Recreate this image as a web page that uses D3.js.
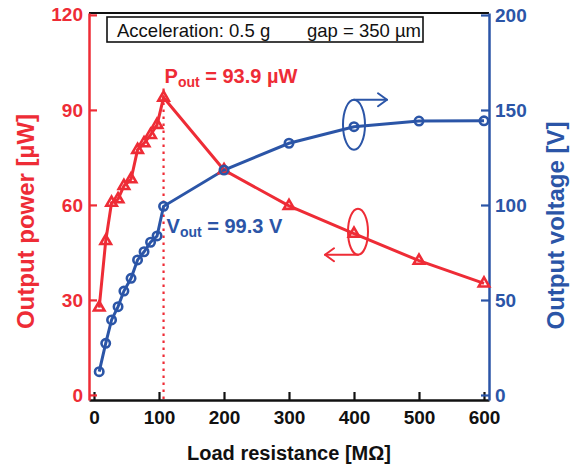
<!DOCTYPE html>
<html>
<head>
<meta charset="utf-8">
<script src="https://cdn.jsdelivr.net/npm/d3@7/dist/d3.min.js"></script>
<style>
  html, body { margin: 0; padding: 0; background: #fff; }
  svg { display: block; font-family: "Liberation Sans", Arial, sans-serif; }
</style>
</head>
<body>
<svg id="chart" width="571" height="464"></svg>
<script>
// Load resistance sweep [MΩ]
const resistance = [8, 18, 27, 37, 46, 57, 67, 77, 87, 97, 107, 200, 300, 400, 500, 600];
// Output power [µW]
const power = [27.6, 48.6, 60.7, 61.8, 66.0, 68.1, 77.4, 79.5, 82.1, 85.3, 93.9, 71.0, 59.7, 50.9, 42.4, 35.2];
// Output voltage [V]
const voltage = [12.3, 27.2, 39.5, 46.5, 54.7, 61.4, 71.1, 75.4, 80.4, 83.7, 99.3, 118.4, 132.5, 141.2, 144.2, 144.3];

const resTicks = [0, 100, 200, 300, 400, 500, 600];
const powerTicks = [0, 30, 60, 90, 120];
const voltageTicks = [0, 50, 100, 150, 200];

const peakPower = 93.9;
const peakVoltage = 99.3;
const conditionText = "Acceleration: 0.5 g";
const gapText = "gap = 350 µm";

const RED = "#ee2c36";
const BLUE = "#2b55a7";

const frame = { left: 89, right: 489, top: 13, bottom: 400 };

const svg = d3.select("#chart");

const x = d3.scaleLinear().domain([-7.7, 607.7]).range([frame.left, frame.right]);
const yP = d3.scaleLinear().domain([-1.6, 120.6]).range([frame.bottom, frame.top]);
const yV = d3.scaleLinear().domain([-2.63, 201.05]).range([frame.bottom, frame.top]);

const pts = resistance.map((r, i) => ({ r, p: power[i], v: voltage[i] }));

// top border of the frame
svg.append("line")
  .attr("x1", frame.left).attr("x2", frame.right)
  .attr("y1", frame.top).attr("y2", frame.top)
  .attr("stroke", "#111").attr("stroke-width", 2.2);

// axes with inward ticks
const axX = svg.append("g")
  .attr("transform", `translate(0,${frame.bottom})`)
  .call(d3.axisBottom(x).tickValues(resTicks).tickSizeInner(-8).tickSizeOuter(0).tickPadding(11));
axX.select(".domain").attr("stroke", "#111").attr("stroke-width", 2.5);
axX.selectAll(".tick line").attr("stroke", "#111").attr("stroke-width", 2.2);
axX.selectAll(".tick text").attr("fill", "#111").attr("font-size", 19).attr("font-weight", "bold")
  .attr("font-family", "'Liberation Sans', Arial, sans-serif");

const axL = svg.append("g")
  .attr("transform", `translate(${frame.left},0)`)
  .call(d3.axisLeft(yP).tickValues(powerTicks).tickSizeInner(-8).tickSizeOuter(0).tickPadding(6));
axL.select(".domain").attr("stroke", RED).attr("stroke-width", 2.5);
axL.selectAll(".tick line").attr("stroke", RED).attr("stroke-width", 2.2);
axL.selectAll(".tick text").attr("fill", RED).attr("font-size", 19).attr("font-weight", "bold")
  .attr("font-family", "'Liberation Sans', Arial, sans-serif");

const axR = svg.append("g")
  .attr("transform", `translate(${frame.right},0)`)
  .call(d3.axisRight(yV).tickValues(voltageTicks).tickSizeInner(-8).tickSizeOuter(0).tickPadding(6));
axR.select(".domain").attr("stroke", BLUE).attr("stroke-width", 2.5);
axR.selectAll(".tick line").attr("stroke", BLUE).attr("stroke-width", 2.2);
axR.selectAll(".tick text").attr("fill", BLUE).attr("font-size", 19).attr("font-weight", "bold")
  .attr("font-family", "'Liberation Sans', Arial, sans-serif");

// axis titles
svg.append("text")
  .attr("x", (frame.left + frame.right) / 2).attr("y", 460)
  .attr("text-anchor", "middle").attr("font-size", 20).attr("font-weight", "bold").attr("fill", "#111")
  .text("Load resistance [MΩ]");

svg.append("text")
  .attr("transform", `translate(34,${(frame.top + frame.bottom) / 2 + 15}) rotate(-90)`)
  .attr("text-anchor", "middle").attr("font-size", 24).attr("font-weight", "bold").attr("fill", RED)
  .text("Output power [µW]");

svg.append("text")
  .attr("transform", `translate(564,${(frame.top + frame.bottom) / 2 + 19}) rotate(-90)`)
  .attr("text-anchor", "middle").attr("font-size", 24).attr("font-weight", "bold").attr("fill", BLUE)
  .text("Output voltage [V]");

// condition box
const box = svg.append("g");
box.append("rect")
  .attr("x", 107).attr("y", 17).attr("width", 316).attr("height", 25)
  .attr("fill", "#fff").attr("stroke", "#111").attr("stroke-width", 1.6);
box.append("text").attr("x", 117).attr("y", 37).attr("font-size", 18.5).attr("fill", "#111").text(conditionText);
box.append("text").attr("x", 421).attr("y", 37).attr("text-anchor", "end").attr("font-size", 18.5).attr("fill", "#111").text(gapText);

// dotted marker at maximum power
const peak = pts[power.indexOf(peakPower)];
svg.append("line")
  .attr("x1", x(peak.r)).attr("x2", x(peak.r))
  .attr("y1", yP(peak.p) - 9).attr("y2", frame.bottom)
  .attr("stroke", RED).attr("stroke-width", 2.2).attr("stroke-dasharray", "2.5,4.5");

// series lines
svg.append("path").datum(pts)
  .attr("fill", "none").attr("stroke", RED).attr("stroke-width", 3)
  .attr("d", d3.line().x(d => x(d.r)).y(d => yP(d.p)));
svg.append("path").datum(pts)
  .attr("fill", "none").attr("stroke", BLUE).attr("stroke-width", 3)
  .attr("d", d3.line().x(d => x(d.r)).y(d => yV(d.v)));

// markers
svg.append("g").selectAll("path").data(pts).join("path")
  .attr("transform", d => `translate(${x(d.r)},${yP(d.p)})`)
  .attr("d", d3.symbol(d3.symbolTriangle, 48))
  .attr("fill", "none").attr("stroke", RED).attr("stroke-width", 2.6);
svg.append("g").selectAll("circle").data(pts).join("circle")
  .attr("cx", d => x(d.r)).attr("cy", d => yV(d.v)).attr("r", 4.2)
  .attr("fill", "none").attr("stroke", BLUE).attr("stroke-width", 2.6);

// value labels
const pLab = svg.append("text").attr("x", x(peak.r) + 1).attr("y", 83)
  .attr("font-size", 20).attr("font-weight", "bold").attr("fill", RED);
pLab.append("tspan").text("P");
pLab.append("tspan").attr("font-size", 14).attr("dy", 4).text("out");
pLab.append("tspan").attr("dy", -4).text(` = ${peakPower} µW`);

const vPeak = pts[voltage.indexOf(peakVoltage)];
const vLab = svg.append("text").attr("x", x(vPeak.r) + 3).attr("y", yV(vPeak.v) + 27)
  .attr("font-size", 20).attr("font-weight", "bold").attr("fill", BLUE);
vLab.append("tspan").text("V");
vLab.append("tspan").attr("font-size", 14).attr("dy", 4).text("out");
vLab.append("tspan").attr("dy", -4).text(` = ${peakVoltage} V`);

// curl arrows pointing each curve to its axis
function curl(cx, cy, rx, ry, dir, color) {
  const g = svg.append("g").attr("fill", "none").attr("stroke", color)
    .attr("stroke-width", 2).attr("stroke-linecap", "round").attr("stroke-linejoin", "round");
  g.append("ellipse").attr("cx", cx).attr("cy", cy).attr("rx", rx).attr("ry", ry);
  const ay = dir > 0 ? cy - ry : cy + ry;
  const tip = cx + dir * 33;
  g.append("path").attr("d", `M${cx},${ay} L${tip},${ay}`);
  g.append("path").attr("d", `M${tip - dir * 9},${ay - 6.5} L${tip},${ay} L${tip - dir * 9},${ay + 6.5}`);
}
const i400 = resistance.indexOf(400);
curl(x(400), yV(voltage[i400]) - 2, 11, 25, 1, BLUE);
curl(x(400) + 4, yP(power[i400]) - 2, 10, 23, -1, RED);
</script>
</body>
</html>
